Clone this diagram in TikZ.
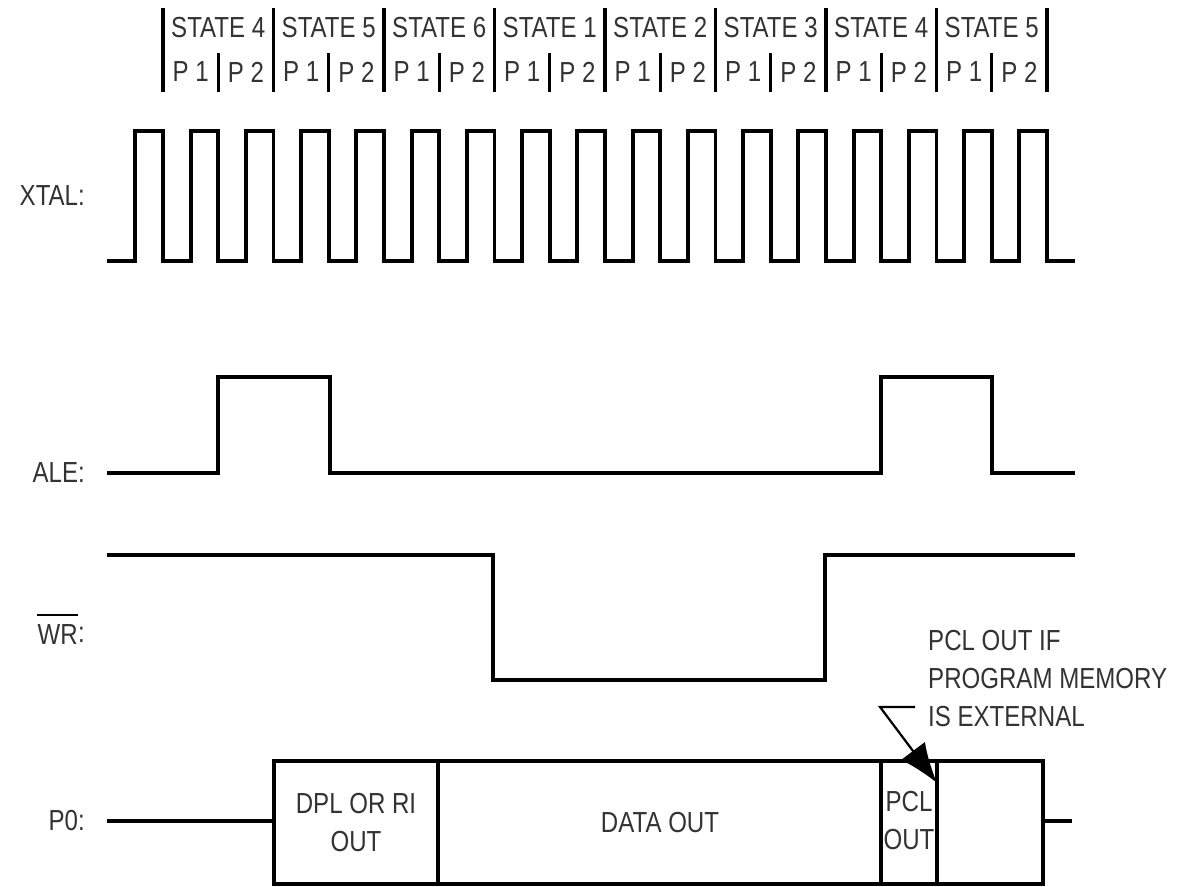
\documentclass[tikz,border=0pt]{standalone}
\usepackage{fontspec}
\setmainfont[FakeStretch=0.83]{Liberation Sans}
\usetikzlibrary{arrows.meta}
\begin{document}
\begin{tikzpicture}[x=1pt,y=-1pt,
  wave/.style={line width=3.8pt, line join=miter},
  bar/.style={line width=3.4pt},
  lbl/.style={font=\fontsize{29}{38}\selectfont, text=black!80, inner sep=0pt},
  box/.style={line width=3.6pt}]
\useasboundingbox[fill=white] (0,0) rectangle (1185,886);
\def\u{55.25}
\def\xo{163}
% header
\foreach \k in {0,...,8} \draw[bar] ({\xo+2*\k*\u},8) -- ({\xo+2*\k*\u},92);
\foreach \k in {0,...,7} \draw[bar] ({\xo+(2*\k+1)*\u},53) -- ({\xo+(2*\k+1)*\u},92);
\foreach \s [count=\k from 0] in {4,5,6,1,2,3,4,5} {
  \node[lbl] (st\k) at ({\xo+(2*\k+1)*\u},28) {STATE \s};
  \node[lbl] (pa\k) at ({\xo+(2*\k+0.5)*\u},72) {P 1};
  \node[lbl] (pb\k) at ({\xo+(2*\k+1.5)*\u},72) {P 2};
}
% labels
\node[lbl,anchor=east] (xtal) at (85,196) {XTAL:};
\node[lbl,anchor=east] (ale) at (85,473) {ALE:};
\node[lbl,anchor=east] (wrc) at (85,635) {:};
\node[lbl,anchor=east] (wrn) at (wrc.west) {WR};
\draw[line width=2pt] ([yshift=10pt]wrn.north west) -- ([yshift=10pt]wrn.north east);
\node[lbl,anchor=east] (p0) at (85,821) {P0:};
% XTAL
\draw[wave] (107,261) \foreach \k in {0,...,16} { -- ({\xo+\k*\u-\u/2},261) -- ({\xo+\k*\u-\u/2},131) -- ({\xo+\k*\u},131) -- ({\xo+\k*\u},261) } -- (1075,261);
% ALE
\draw[wave] (107,473) -- (218,473) -- (218,377) -- (330,377) -- (330,473) -- (881,473) -- (881,377) -- (992,377) -- (992,473) -- (1075,473);
% WR
\draw[wave] (107,555) -- (493,555) -- (493,680) -- (825,680) -- (825,555) -- (1075,555);
% P0
\draw[wave] (107,821) -- (274,821);
\draw[wave] (1043,821) -- (1072,821);
\draw[box] (274,761) rectangle (1043,884);
\draw[box] (438,761) -- (438,884);
\draw[box] (881,761) -- (881,884);
\draw[box] (937,761) -- (937,884);
\node[lbl,align=center] (dpl) at (356,823) {DPL OR RI\\OUT};
\node[lbl] (data) at (660,823) {DATA OUT};
\node[lbl,align=center] (pcl) at (909,821) {PCL\\OUT};
% annotation
\node[lbl,anchor=north west,align=left] (note) at (928,630) {PCL OUT IF\\PROGRAM MEMORY\\IS EXTERNAL};
\coordinate (ldA) at (915,707);
\coordinate (ldB) at (880,707);
\coordinate (ldT) at (937,783);
\draw[line width=2.2pt,-{Latex[length=40pt,width=30pt]}] (ldA) -- (ldB) -- (ldT);
\end{tikzpicture}
\end{document}
